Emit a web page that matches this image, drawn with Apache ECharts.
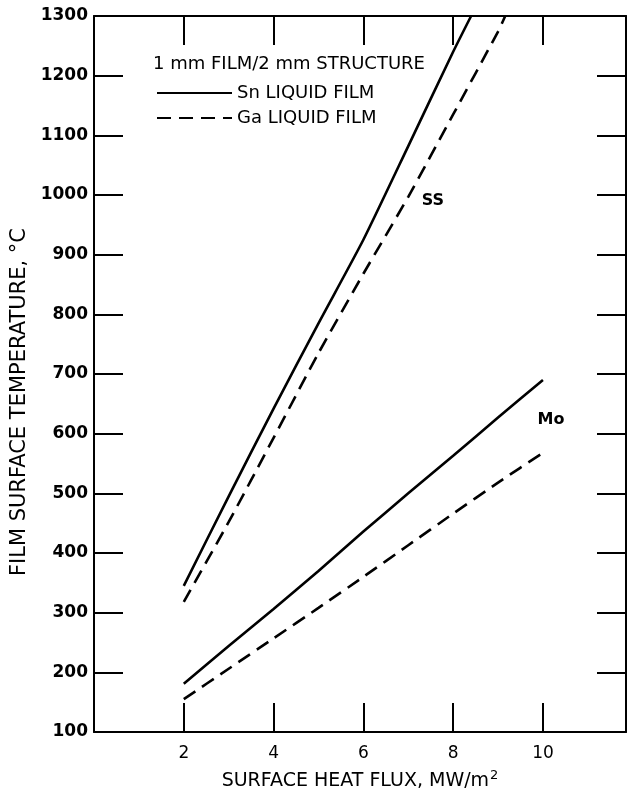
<!DOCTYPE html>
<html>
<head>
<meta charset="utf-8">
<script src="https://cdn.jsdelivr.net/npm/echarts@6/dist/echarts.min.js"></script>
<style>
html,body{margin:0;padding:0;background:#fff;}
#chart{width:627px;height:796px;}
</style>
</head>
<body>
<div id="chart"></div>
<script>
// ---- data ----
const ssSnFlux = [2, 3, 4, 5, 6, 7, 8, 8.4];
const ssSnTemp = [345, 495, 642, 785, 925, 1082, 1240, 1300];
const ssGaFlux = [2, 3, 4, 5, 6, 7, 8, 9, 9.16];
const ssGaTemp = [318, 452, 593, 735, 868, 997, 1135, 1274, 1300];
const moSnFlux = [2, 3, 4, 5, 6, 7, 8, 9, 10];
const moSnTemp = [181, 244, 306, 370, 436, 500, 563, 627, 690];
const moGaFlux = [2, 3, 4, 5, 6, 7, 8, 9, 10];
const moGaTemp = [155, 206, 257, 308, 360, 413, 466, 518, 568];
const materialLabels = ['SS', 'Mo'];
const materialLabelFlux = [7.55, 10.18];
const materialLabelTemp = [990, 623];
const xTickLabels = ['2', '4', '6', '8', '10'];
const xTickValues = [2, 4, 6, 8, 10];
const legendNames = ['Sn LIQUID FILM', 'Ga LIQUID FILM'];
const legendTitle = '1 mm FILM/2 mm STRUCTURE';
const xName = 'SURFACE HEAT FLUX, MW/m';
const yName = 'FILM SURFACE TEMPERATURE, °C';

const pairs = (xs, ys) => xs.map((x, i) => [x, ys[i]]);
const FONT = 'DejaVu Sans';
const dash = [14, 8];

const chart = echarts.init(document.getElementById('chart'), null, {renderer: 'canvas'});

const axisLine = () => ({show: true, onZero: false, lineStyle: {color: '#000', width: 2}});
const tickStyle = () => ({show: true, inside: true, length: 29, lineStyle: {color: '#000', width: 2}});

const option = {
  backgroundColor: '#fff',
  animation: false,
  title: {
    text: legendTitle,
    left: 153, top: 55,
    padding: 0,
    textStyle: {fontFamily: FONT, fontSize: 18, fontWeight: 'normal', color: '#000'}
  },
  legend: {
    data: legendNames,
    orient: 'vertical',
    left: 156, top: 84,
    padding: 0,
    itemWidth: 75, itemHeight: 2, itemGap: 7,
    itemStyle: {opacity: 0},
    textStyle: {fontFamily: FONT, fontSize: 18, color: '#000'}
  },
  grid: {left: 94, right: 1, top: 16, bottom: 58, containLabel: false},
  xAxis: [{
    type: 'value', position: 'bottom', min: 0, max: 11.85, interval: 2,
    axisLine: axisLine(),
    axisTick: tickStyle(),
    splitLine: {show: false},
    axisLabel: {
      show: true, margin: 13, showMinLabel: false, showMaxLabel: false,
      fontFamily: FONT, fontSize: 17, color: '#000',
      formatter: v => { const i = xTickValues.indexOf(v); return i >= 0 ? xTickLabels[i] : ''; }
    },
    name: xName + '{sup|2}',
    nameLocation: 'middle', nameGap: 37,
    nameTextStyle: {
      fontFamily: FONT, fontSize: 19, color: '#000',
      rich: {sup: {fontFamily: FONT, fontSize: 13, color: '#000', verticalAlign: 'top', padding: [0, 0, 12, 1]}}
    }
  }, {
    type: 'value', position: 'top', min: 0, max: 11.85, interval: 2,
    axisLine: axisLine(),
    axisTick: tickStyle(),
    axisLabel: {show: false},
    splitLine: {show: false}
  }],
  yAxis: [{
    type: 'value', position: 'left', min: 100, max: 1300, interval: 100,
    axisLine: axisLine(),
    axisTick: tickStyle(),
    splitLine: {show: false},
    axisLabel: {margin: 6, fontFamily: FONT, fontSize: 17, fontWeight: 'bold', color: '#000',
      formatter: v => String(v)},
    name: yName,
    nameLocation: 'middle', nameGap: 64, nameRotate: 90,
    nameTextStyle: {fontFamily: FONT, fontSize: 21, color: '#000', padding: [0, 56, 0, 0]}
  }, {
    type: 'value', position: 'right', min: 100, max: 1300, interval: 100,
    axisLine: axisLine(),
    axisTick: tickStyle(),
    axisLabel: {show: false},
    splitLine: {show: false}
  }],
  series: [
    {
      name: legendNames[0], type: 'line', data: pairs(ssSnFlux, ssSnTemp), smooth: 0.2,
      showSymbol: false, symbol: 'none', color: '#000',
      lineStyle: {color: '#000', width: 2.6, type: 'solid'},
      markPoint: {
        symbol: 'circle', symbolSize: 0, silent: true,
        label: {show: true, formatter: '{b}', fontFamily: FONT, fontSize: 16, fontWeight: 'bold', color: '#000', position: 'inside'},
        data: [{name: materialLabels[0], coord: [materialLabelFlux[0], materialLabelTemp[0]]}]
      }
    },
    {
      name: legendNames[1], type: 'line', data: pairs(ssGaFlux, ssGaTemp), smooth: 0.2,
      showSymbol: false, symbol: 'none', color: '#000',
      lineStyle: {color: '#000', width: 2.6, type: dash}
    },
    {
      name: legendNames[0], type: 'line', data: pairs(moSnFlux, moSnTemp), smooth: 0.2,
      showSymbol: false, symbol: 'none', color: '#000',
      lineStyle: {color: '#000', width: 2.6, type: 'solid'},
      markPoint: {
        symbol: 'circle', symbolSize: 0, silent: true,
        label: {show: true, formatter: '{b}', fontFamily: FONT, fontSize: 16, fontWeight: 'bold', color: '#000', position: 'inside'},
        data: [{name: materialLabels[1], coord: [materialLabelFlux[1], materialLabelTemp[1]]}]
      }
    },
    {
      name: legendNames[1], type: 'line', data: pairs(moGaFlux, moGaTemp), smooth: 0.2,
      showSymbol: false, symbol: 'none', color: '#000',
      lineStyle: {color: '#000', width: 2.6, type: dash}
    }
  ]
};
chart.setOption(option);
</script>
</body>
</html>
